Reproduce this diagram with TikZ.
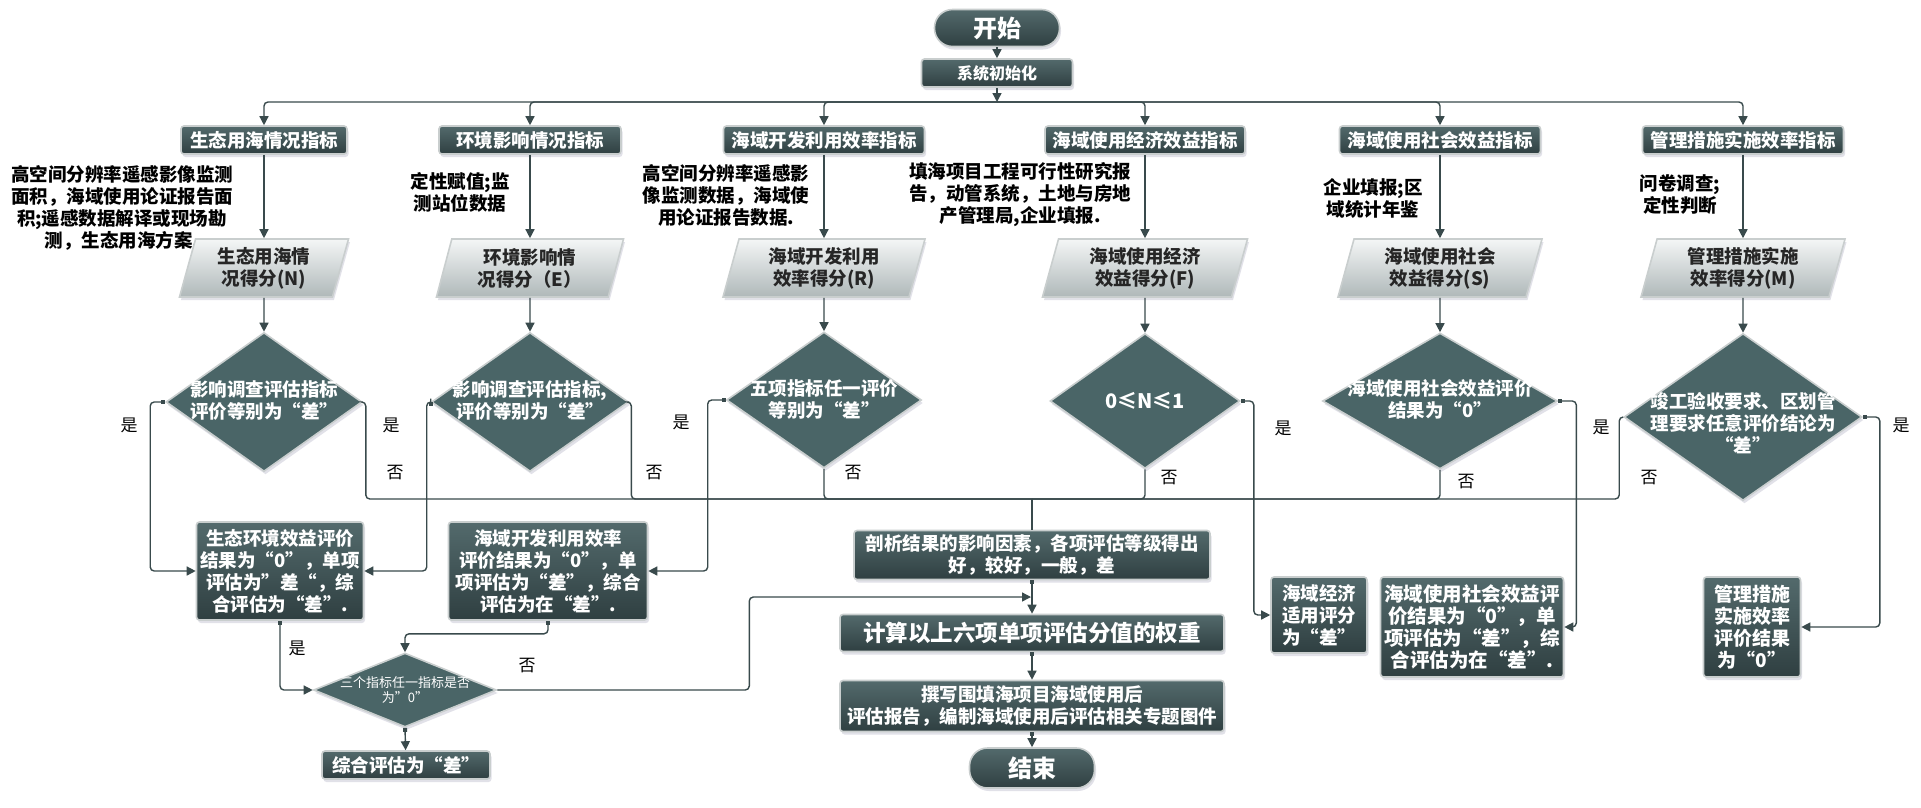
\documentclass[tikz,border=0pt]{standalone}
\usepackage{fontspec}
\setmainfont{Noto Sans CJK SC}
\usetikzlibrary{shapes.geometric,arrows.meta,shadows}

\definecolor{dktop}{HTML}{536A6C}
\definecolor{dkbot}{HTML}{2F3F41}
\definecolor{diafill}{HTML}{4A6567}
\definecolor{lncol}{HTML}{394A4C}
\definecolor{pgtop}{HTML}{F4F6F6}
\definecolor{pgbot}{HTML}{AFB8B9}
\definecolor{rimcol}{HTML}{C9CECE}

\tikzset{
  base/.style={draw=rimcol, line width=1.6pt, inner sep=0pt, align=center,
    drop shadow={shadow xshift=1.5pt, shadow yshift=-3pt, fill=blue!15!gray!45, opacity=0.45}},
  dbox/.style={base, rectangle, rounded corners=3pt, top color=dktop, bottom color=dkbot,
    text=white, font=\bfseries\fontsize{18.5}{22}\selectfont},
  hbox/.style={dbox, minimum height=28pt},
  term/.style={dbox, rounded corners=18pt, font=\bfseries\fontsize{24}{28}\selectfont},
  pgram/.style={base, trapezium, trapezium left angle=69, trapezium right angle=111,
    trapezium stretches body, minimum height=58pt, top color=pgtop, bottom color=pgbot,
    text=black!85, font=\bfseries\fontsize{18.5}{22}\selectfont},
  dshape/.style={base, diamond, fill=diafill},
  dtext/.style={align=center, text=white, font=\bfseries\fontsize{18.5}{22}\selectfont},
  ann/.style={align=center, text=black, font=\bfseries\fontsize{18.5}{22}\selectfont},
  yn/.style={text=black, font=\fontsize{17}{17}\selectfont},
  conn/.style={draw=lncol, line width=1.4pt, rounded corners=4pt},
  arr/.style={conn, -{Triangle[length=9pt,width=9pt]}},
  sarr/.style={conn, {Square[length=4pt,width=4pt]}-{Triangle[length=9pt,width=9pt]}},
}

\begin{document}
\begin{tikzpicture}[x=1pt,y=-1pt]
\fill[white] (0,0) rectangle (1921,807);
\useasboundingbox (0,0) rectangle (1921,807);

% top
\node[term, minimum width=125pt, minimum height=37pt] (start) at (997,28) {开始};
\node[dbox, minimum width=151pt, minimum height=28pt, font=\bfseries\fontsize{16}{18}\selectfont] (init) at (997,73) {系统初始化};
\coordinate (bus1) at (997,102);

% headers
\node[hbox, minimum width=166pt] (h1) at (264,140) {生态用海情况指标};
\node[hbox, minimum width=182pt] (h2) at (530,140) {环境影响情况指标};
\node[hbox, minimum width=201pt] (h3) at (824,140) {海域开发利用效率指标};
\node[hbox, minimum width=200pt] (h4) at (1145,140) {海域使用经济效益指标};
\node[hbox, minimum width=201pt] (h5) at (1440,140) {海域使用社会效益指标};
\node[hbox, minimum width=201pt] (h6) at (1743,140) {管理措施实施效率指标};

% annotations
\node[ann] (a1) at (122,208) {高空间分辨率遥感影像监测\\面积，海域使用论证报告面\\积;遥感数据解译或现场勘\\测，生态用海方案.};
\node[ann] (a2) at (460,192) {定性赋值;监\\测站位数据};
\node[ann] (a3) at (726,195) {高空间分辨率遥感影\\像监测数据，海域使\\用论证报告数据.};
\node[ann] (a4) at (1020,195) {填海项目工程可行性研究报\\告，动管系统，土地与房地\\产管理局,企业填报.};
\node[ann] (a5) at (1373,198) {企业填报;区\\域统计年鉴};
\node[ann] (a6) at (1680,194) {问卷调查;\\定性判断};

% parallelograms
\node[pgram, minimum width=169pt] (p1) at (264,268) {生态用海情\\况得分(N)};
\node[pgram, minimum width=187pt] (p2) at (530,268) {环境影响情\\况得分（E）};
\node[pgram, minimum width=202pt] (p3) at (824,268) {海域开发利用\\效率得分(R)};
\node[pgram, minimum width=205pt] (p4) at (1145,268) {海域使用经济\\效益得分(F)};
\node[pgram, minimum width=204pt] (p5) at (1440,268) {海域使用社会\\效益得分(S)};
\node[pgram, minimum width=204pt] (p6) at (1743,268) {管理措施实施\\效率得分(M)};

% diamonds
\node[dshape, minimum width=196pt, minimum height=139pt] (d1) at (264,402) {};
\node[dtext] (d1t) at (264,401) {影响调查评估指标\\评价等别为“差”};
\node[dshape, minimum width=197pt, minimum height=139pt] (d2) at (530,402) {};
\node[dtext] (d2t) at (530,401) {影响调查评估指标,\\评价等别为“差”};
\node[dshape, minimum width=195pt, minimum height=136pt] (d3) at (824,400) {};
\node[dtext] (d3t) at (824,399) {五项指标任一评价\\等别为“差”};
\node[dshape, minimum width=190pt, minimum height=135pt] (d4) at (1145,401) {};
\node[dtext, font=\bfseries\fontsize{20}{22}\selectfont] (d4t) at (1145,401) {0≤N≤1};
\node[dshape, minimum width=235pt, minimum height=136pt] (d5) at (1440,401) {};
\node[dtext] (d5t) at (1440,399) {海域使用社会效益评价\\结果为“0”};
\node[dshape, minimum width=238pt, minimum height=167pt] (d6) at (1743,417) {};
\node[dtext] (d6t) at (1743,423) {竣工验收要求、区划管\\理要求任意评价结论为\\“差”};

\coordinate (bus2) at (1032,499);

% result boxes
\node[dbox, minimum width=167pt, minimum height=98pt] (b1) at (280,571) {生态环境效益评价\\结果为“0”，单项\\评估为”差“，综\\合评估为“差”.};
\node[dbox, minimum width=199pt, minimum height=98pt] (b2) at (548,571) {海域开发利用效率\\评价结果为“0”，单\\项评估为“差”，综合\\评估为在“差”.};
\node[dshape, minimum width=183pt, minimum height=74pt] (d7) at (405,690) {};
\node[dtext, font=\fontsize{13}{15}\selectfont] (d7t) at (405,690) {三个指标任一指标是否\\为”0”};
\node[dbox, minimum width=168pt, minimum height=28pt] (zh) at (406,765) {综合评估为“差”};

\node[dbox, minimum width=356pt, minimum height=49pt] (an) at (1032,555) {剖析结果的影响因素，各项评估等级得出\\好，较好，一般，差};
\node[dbox, minimum width=384pt, minimum height=37pt, font=\bfseries\fontsize{22.5}{26}\selectfont] (calc) at (1032,633) {计算以上六项单项评估分值的权重};
\node[dbox, minimum width=384pt, minimum height=51pt] (rep) at (1032,706) {撰写围填海项目海域使用后\\评估报告，编制海域使用后评估相关专题图件};
\node[term, minimum width=125pt, minimum height=40pt] (end) at (1032,768) {结束};
\coordinate (j1) at (1031,597);

\node[dbox, minimum width=96pt, minimum height=76pt] (e1) at (1319,615) {海域经济\\适用评分\\为“差”};
\node[dbox, minimum width=183pt, minimum height=100pt, font=\bfseries\fontsize{19.5}{22}\selectfont] (s1) at (1472,627) {海域使用社会效益评\\价结果为“0”，单\\项评估为“差”，综\\合评估为在“差”.};
\node[dbox, minimum width=97pt, minimum height=100pt, font=\bfseries\fontsize{19}{22}\selectfont] (m1) at (1752,627) {管理措施\\实施效率\\评价结果\\为“0”};

% yes / no labels
\node[yn] (y1) at (129,425) {是};
\node[yn] (y2) at (391,425) {是};
\node[yn] (n1) at (395,473) {否};
\node[yn] (y3) at (681,422) {是};
\node[yn] (n2) at (654,473) {否};
\node[yn] (n3) at (853,473) {否};
\node[yn] (n4) at (1169,478) {否};
\node[yn] (y4) at (1283,428) {是};
\node[yn] (n5) at (1466,482) {否};
\node[yn] (y5) at (1601,427) {是};
\node[yn] (n6) at (1649,478) {否};
\node[yn] (y6) at (1901,425) {是};
\node[yn] (y7) at (297,648) {是};
\node[yn] (n7) at (527,666) {否};

% connectors
\draw[arr] (start) -- (init);
\draw[arr] (init) -- (bus1);
\foreach \h in {h1,h2,h3,h4,h5,h6} \draw[arr] (bus1) -| (\h);
\foreach \i in {1,...,6} {
  \draw[arr] (h\i) -- (p\i);
  \draw[arr] (p\i) -- (d\i);
}
\draw[sarr] (d1.west) -- ++(-15,0) |- (b1.west);
\draw[sarr] (d2.west) -- ++(-4,0) |- (b1.east);
\draw[sarr] (d3.west) -- ++(-18,0) |- (b2.east);
\draw[sarr] (d4.east) -- ++(13,0) |- (e1.west);
\draw[sarr] (d5.east) -- ++(18,0) |- (s1.east);
\draw[sarr] (d6.east) -- ++(17,0) |- (m1.east);

\draw[conn] (d1.east) -- ++(3,0) |- (bus2);
\draw[conn] (d2.east) -- ++(2,0) |- (bus2);
\draw[conn] (d3.south) |- (bus2);
\draw[conn] (d4.south) |- (bus2);
\draw[conn] (d5.south) |- (bus2);
\draw[conn] (d6.west) -- ++(-4,0) |- (bus2);
\draw[conn] (bus2) -- (an);

\draw[sarr] (b1.south) |- (d7.west);
\draw[sarr] (b2.south) -- ++(0,13) -| (d7.north);
\draw[arr] (d7.east) -- ++(252,0) |- (j1);
\draw[sarr] (d7.south) -- (zh);
\draw[sarr] (an) -- (calc);
\draw[sarr] (calc) -- (rep);
\draw[sarr] (rep) -- (end);
\end{tikzpicture}
\end{document}
